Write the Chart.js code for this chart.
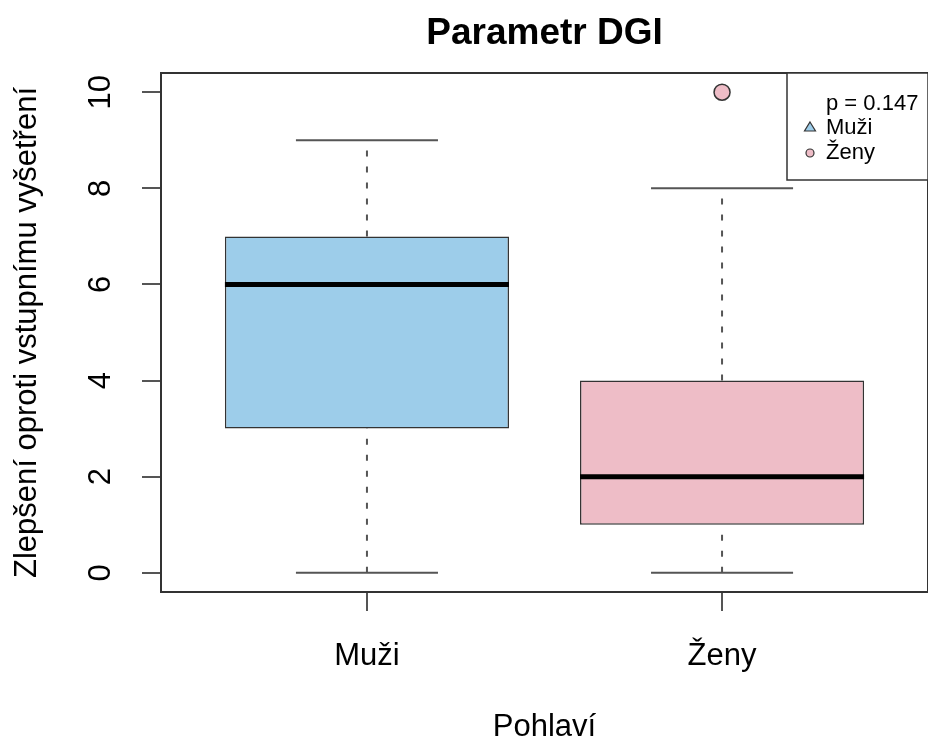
<!DOCTYPE html>
<html>
<head>
<meta charset="utf-8">
<script src="https://cdn.jsdelivr.net/npm/chart.js@4/dist/chart.umd.min.js"></script>
<style>
  html, body { margin: 0; padding: 0; background: #fff; }
  canvas { display: block; }
</style>
</head>
<body>
<canvas id="boxChart" width="928" height="745"></canvas>
<script>
// Box plot values
const groups = ['Muži', 'Ženy'];
const lowerWhisker = [0, 0];
const q1 = [3, 1];
const median = [6, 2];
const q3 = [7, 4];
const upperWhisker = [9, 8];
const outlierGroup = [2];      // position of the group (1 = Muži, 2 = Ženy)
const outlierValue = [10];
const yTicks = [0, 2, 4, 6, 8, 10];
const pText = 'p = 0.147';
const boxColors = ['#9DCDEA', '#EEBDC7'];

const FONT = "'Liberation Sans', Arial, Helvetica, sans-serif";
const INK = '#333333';
const GREY = '#555555';

// whiskers: lower + upper part of each group, broken by null
const whiskerData = [];
groups.forEach((g, i) => {
    whiskerData.push({ x: i + 1, y: lowerWhisker[i] }, { x: i + 1, y: q1[i] }, { x: i + 1, y: null });
    whiskerData.push({ x: i + 1, y: q3[i] }, { x: i + 1, y: upperWhisker[i] }, { x: i + 1, y: null });
});

// staples at the whisker ends
const capData = [];
groups.forEach((g, i) => {
    [lowerWhisker[i], upperWhisker[i]].forEach(v => {
        capData.push({ x: i + 1 - 0.2, y: v }, { x: i + 1 + 0.2, y: v }, { x: i + 1, y: null });
    });
});

// medians across the boxes
const medianData = [];
groups.forEach((g, i) => {
    medianData.push({ x: i + 1 - 0.4, y: median[i] }, { x: i + 1 + 0.4, y: median[i] }, { x: i + 1, y: null });
});

const outlierData = outlierGroup.map((g, i) => ({ x: g, y: outlierValue[i] }));

// frame around the plot and the legend in the top right corner
const framePlugin = {
    id: 'frame',
    afterDraw(chart) {
        const { ctx, chartArea: a } = chart;
        ctx.save();
        ctx.strokeStyle = INK;
        ctx.lineWidth = 2;
        ctx.strokeRect(a.left, a.top, a.right - a.left, a.bottom - a.top);

        // legend box
        const lw = 141, lh = 107;
        const lx = a.right - lw, ly = a.top;
        ctx.fillStyle = '#fff';
        ctx.fillRect(lx, ly, lw, lh);
        ctx.lineWidth = 1.5;
        ctx.strokeRect(lx, ly, lw, lh);

        ctx.fillStyle = '#000';
        ctx.font = '22px ' + FONT;
        ctx.textBaseline = 'middle';
        ctx.textAlign = 'left';
        ctx.fillText(pText, lx + 39, ly + 31);
        ctx.fillText(groups[0], lx + 39, ly + 55);
        ctx.fillText(groups[1], lx + 39, ly + 80);

        // triangle marker
        const tx = lx + 23, ty = ly + 54;
        ctx.beginPath();
        ctx.moveTo(tx, ty - 5);
        ctx.lineTo(tx + 5.5, ty + 4);
        ctx.lineTo(tx - 5.5, ty + 4);
        ctx.closePath();
        ctx.fillStyle = boxColors[0];
        ctx.fill();
        ctx.strokeStyle = INK;
        ctx.lineWidth = 1.2;
        ctx.stroke();

        // circle marker
        ctx.beginPath();
        ctx.arc(lx + 23, ly + 80, 4, 0, Math.PI * 2);
        ctx.fillStyle = boxColors[1];
        ctx.fill();
        ctx.stroke();
        ctx.restore();
    }
};

new Chart(document.getElementById('boxChart'), {
    type: 'bar',
    data: {
        datasets: [
            {
                type: 'line',
                data: medianData,
                borderColor: '#000',
                borderWidth: 5,
                borderCapStyle: 'butt',
                pointRadius: 0,
                spanGaps: false,
                order: 0
            },
            {
                type: 'bar',
                data: groups.map((g, i) => ({ x: i + 1, y: [q1[i], q3[i]] })),
                backgroundColor: boxColors,
                borderColor: INK,
                borderWidth: 1.5,
                borderSkipped: false,
                barPercentage: 1,
                categoryPercentage: 0.8,
                order: 1
            },
            {
                type: 'line',
                data: whiskerData,
                borderColor: GREY,
                borderWidth: 2,
                borderDash: [6, 10],
                borderCapStyle: 'butt',
                pointRadius: 0,
                spanGaps: false,
                order: 3
            },
            {
                type: 'line',
                data: capData,
                borderColor: GREY,
                borderWidth: 2,
                pointRadius: 0,
                spanGaps: false,
                order: 3
            },
            {
                type: 'line',
                data: outlierData,
                showLine: false,
                pointRadius: 8,
                pointBackgroundColor: boxColors[1],
                pointBorderColor: INK,
                pointBorderWidth: 1.5,
                order: 0
            }
        ]
    },
    options: {
        responsive: false,
        animation: false,
        events: [],
        layout: { padding: 0, autoPadding: false },
        plugins: {
            legend: { display: false },
            tooltip: { enabled: false },
            title: {
                display: true,
                text: 'Parametr DGI',
                fullSize: false,
                color: '#000',
                font: { family: FONT, size: 37, weight: 'bold', lineHeight: 1.2 },
                padding: { top: 12, bottom: 16.6 }
            }
        },
        scales: {
            x: {
                type: 'linear',
                offset: false,
                min: 0.42,
                max: 2.58,
                afterBuildTicks: s => { s.ticks = groups.map((g, i) => ({ value: i + 1 })); },
                afterFit: s => { s.height = 153; s.paddingRight = 0; s.paddingLeft = 0; },
                ticks: {
                    callback: v => groups[v - 1],
                    color: '#000',
                    padding: 27,
                    maxRotation: 0,
                    font: { family: FONT, size: 31 }
                },
                grid: { offset: false, drawOnChartArea: false, tickLength: 19, color: GREY, lineWidth: 2 },
                border: { display: false },
                title: {
                    display: true,
                    text: 'Pohlaví',
                    color: '#000',
                    font: { family: FONT, size: 31, lineHeight: 1.1 },
                    padding: { top: 0, bottom: 0 }
                }
            },
            y: {
                type: 'linear',
                min: -0.4,
                max: 10.4,
                afterBuildTicks: s => { s.ticks = yTicks.map(v => ({ value: v })); },
                afterFit: s => { s.width = 161; },
                ticks: {
                    color: '#000',
                    minRotation: 90,
                    maxRotation: 90,
                    crossAlign: 'center',
                    padding: 23,
                    font: { family: FONT, size: 31 }
                },
                grid: { drawOnChartArea: false, tickLength: 19, color: GREY, lineWidth: 2 },
                border: { display: false },
                title: {
                    display: true,
                    text: 'Zlepšení oproti vstupnímu vyšetření',
                    color: '#000',
                    font: { family: FONT, size: 31, lineHeight: 1.2 },
                    padding: { top: 9, bottom: 0 }
                }
            }
        }
    },
    plugins: [framePlugin]
});
</script>
</body>
</html>
